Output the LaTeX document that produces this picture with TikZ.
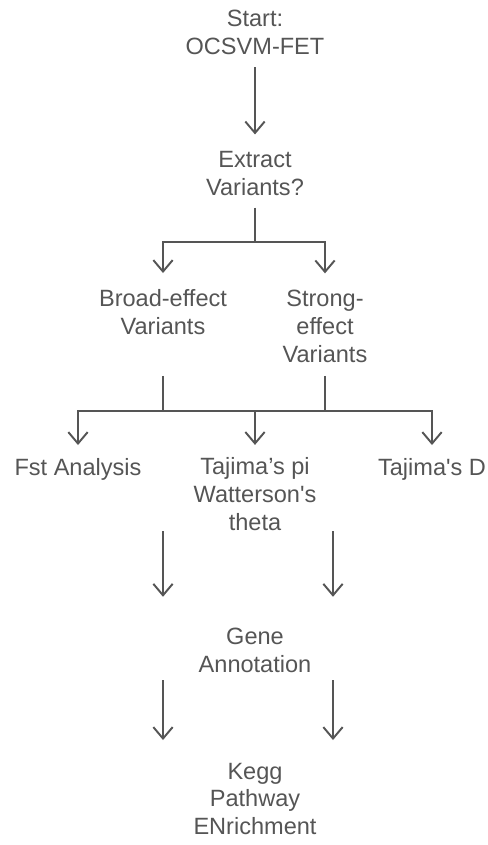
\documentclass[tikz,border=0pt]{standalone}
\usepackage{fontspec}
\setmainfont{Liberation Sans}
\usetikzlibrary{arrows.meta, positioning}
\definecolor{ink}{HTML}{555555}

\begin{document}
\begin{tikzpicture}[% one unit = one pixel of the sketch
        x = 0.02cm, y = -0.02cm,
        > = {Straight Barb[length=6.5pt, width=11pt]},
stage/.style = {text=ink, align=center, inner sep=0pt, outer sep=0pt,
                font=\fontsize{13.4}{15.9}\selectfont},
 link/.style = {draw=ink, line width=1.1pt},
arrow/.style = {link, ->}
                    ]
	\useasboundingbox (0,0) rectangle (487,845);

	% stages
	\node[stage] (start)   at (255, 32)  {Start:\\OCSVM-FET};
	\node[stage] (extract) at (255,173.5) {Extract\\Variants?};
	\node[stage] (broad)   at (163,312.5) {Broad-effect\\Variants};
	\node[stage] (strong)  at (325,326.5) {Strong-\\effect\\Variants};
	\node[stage] (fst)     at (78, 469)  {Fst Analysis};
	\node[stage] (tajpi)   at (255,494.5) {Tajima’s pi\\Watterson\textquotesingle s\\theta};
	\node[stage] (tajD)    at (432,469)  {Tajima\textquotesingle s D};
	\node[stage] (gene)    at (255,650)  {Gene\\Annotation};
	\node[stage] (kegg)    at (255,799)  {Kegg\\Pathway\\ENrichment};

	% junctions and columns
	\coordinate (split) at (255,242);
	\coordinate (jb)    at (163,411);
	\coordinate (js)    at (325,411);
	\coordinate (lcol)  at (163,0);
	\coordinate (rcol)  at (333,0);

	% connectors
	\draw[arrow, shorten <=7.4pt, shorten >=9.6pt] (start) -- (extract);
	\draw[link, shorten <=6.8pt] (extract) -- (split);
	\draw[arrow, shorten >=9.6pt] (split) -| (broad);
	\draw[arrow, shorten >=9.6pt] (split) -| (strong);

	\draw[link, shorten <=23.2pt] (broad) -- (jb);
	\draw[link, shorten <=7.4pt] (strong) -- (js);
	\draw[link, line width=1.6pt] (jb) -- (js);
	\draw[arrow, shorten >=7.4pt] (jb) -| (fst);
	\draw[arrow, shorten >=7.4pt] (jb) -| (tajpi);
	\draw[arrow, shorten >=7.4pt] (js) -| (tajD);

	\draw[arrow, shorten >=17.6pt] (tajpi.south -| lcol) -- (gene.north -| lcol);
	\draw[arrow, shorten >=17.6pt] (tajpi.south -| rcol) -- (gene.north -| rcol);
	\draw[arrow, shorten <=4.5pt, shorten >=13pt] (gene.south -| lcol) -- (kegg.north -| lcol);
	\draw[arrow, shorten <=4.5pt, shorten >=13pt] (gene.south -| rcol) -- (kegg.north -| rcol);
\end{tikzpicture}
\end{document}
